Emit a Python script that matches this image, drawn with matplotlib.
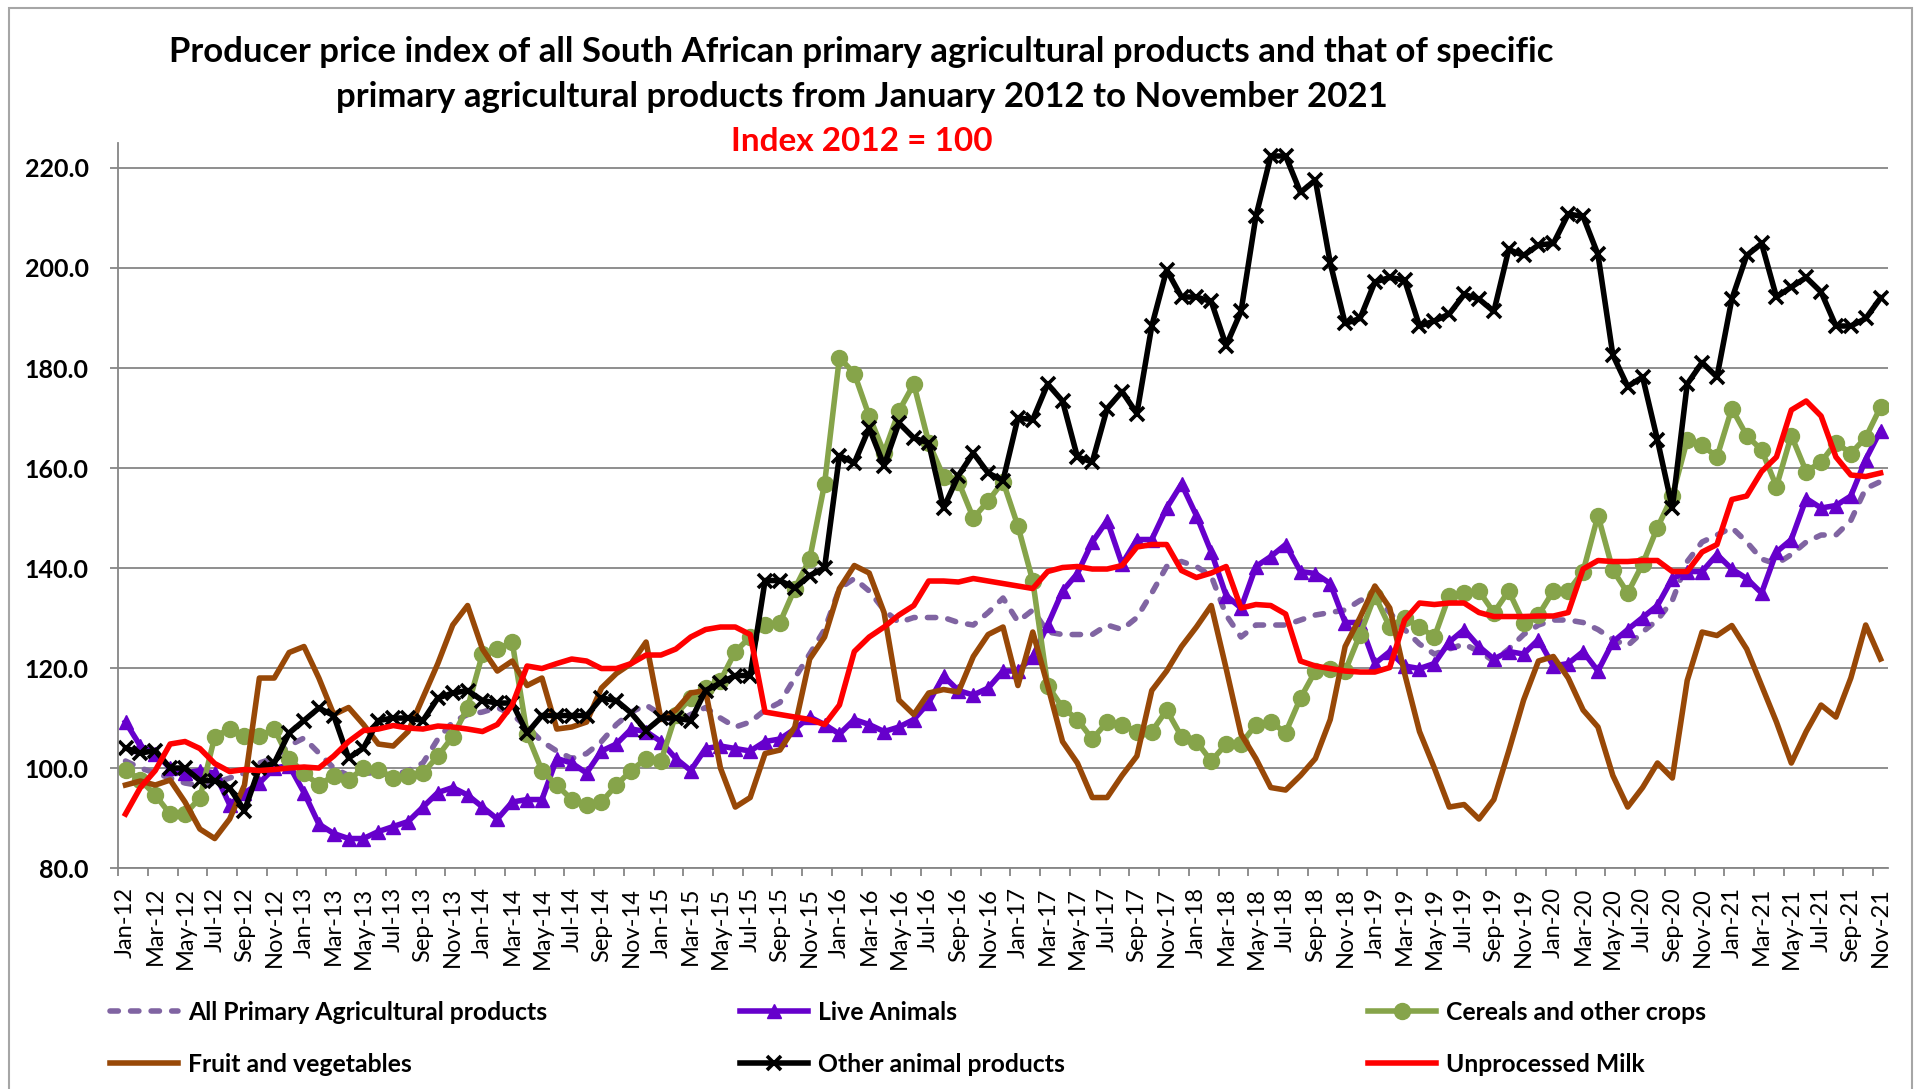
import numpy as np
import pandas as pd
import matplotlib
matplotlib.use('Agg')
import matplotlib.pyplot as plt
from matplotlib.patches import Rectangle

plt.rcParams['font.family'] = ['Lato', 'DejaVu Sans']

# Jan-12 .. Nov-21, monthly
months = pd.date_range('2012-01-01', periods=119, freq='MS').strftime('%b-%y').tolist()

all_primary = [101.4, 100, 99, 98, 97, 96.5, 97, 98, 99, 101, 102, 104.5,
               106, 103, 100, 98.5, 99, 99, 98.5, 99.5, 101, 105.8, 109.2, 110.7,
               111.2, 112.1, 110.7, 108.2, 105.3, 103.4, 101.9, 102.9, 105.3, 108.7, 111.2, 112.6,
               110.7, 109.2, 110.7, 112.1, 110, 108.2, 109.2, 111.6, 113.1, 118, 122.8, 127.7,
               135.9, 137.9, 135.4, 131.6, 129.1, 130.1, 130.1, 130.1, 129.1, 128.6, 131.1, 134,
               129.3, 131.6, 127.2, 126.7, 126.7, 126.7, 128.6, 127.7, 130.1, 135, 140.3, 141.3,
               140.3, 138.4, 130.6, 126.2, 128.6, 128.6, 128.6, 129.6, 130.6, 131.1, 131.6, 133.5,
               134.5, 131.1, 127.7, 124.8, 122.8, 123.8, 124.8, 123.3, 121.4, 123.8, 126.7, 128.6,
               129.6, 129.6, 129.1, 127.7, 125.7, 124.5, 127.2, 129.6, 133.5, 141.3, 145.2, 146.6,
               148.1, 145.2, 141.8, 140.8, 142.7, 145.2, 146.6, 146.6, 149.5, 155.9, 157.3]

live_animals = [109.2, 104.4, 102.9, 100, 99, 99.5, 99, 92.7, 95, 97, 100, 100.5,
                95.1, 88.8, 86.9, 85.9, 85.9, 87.3, 88.3, 89.3, 92.2, 95.1, 96.1, 94.6,
                92.2, 89.8, 93.2, 93.7, 93.7, 101.9, 101, 99, 103.4, 104.8, 107.8, 107.3,
                105.3, 101.9, 99.5, 103.9, 104.4, 103.9, 103.4, 105.3, 105.8, 107.8, 110.2, 108.7,
                106.8, 109.7, 108.7, 107.3, 108.2, 109.7, 113.1, 118.4, 115.5, 114.6, 116, 119.4,
                119.4, 122.3, 128.6, 135.4, 138.9, 145.2, 149.5, 140.8, 145.7, 145.7, 152, 156.8,
                150.5, 143.2, 134.5, 132, 140.3, 142.3, 144.7, 139.3, 138.9, 136.9, 129.1, 129.1,
                120.9, 123.3, 120.4, 119.9, 120.9, 125.2, 127.7, 124.3, 121.8, 123.3, 122.8, 125.7,
                120.4, 120.9, 123.3, 119.4, 125.2, 127.7, 130.1, 132.5, 137.9, 139.3, 139.3, 142.7,
                139.8, 137.9, 135, 143.2, 145.7, 153.9, 152, 152.5, 154.4, 161.7, 167.5]

cereals = [99.7, 97.6, 94.6, 90.8, 90.8, 94, 106.3, 107.8, 106.5, 106.5, 107.8, 101.9,
           99, 96.6, 98.5, 97.6, 100, 99.7, 98, 98.5, 99, 102.4, 106.3, 112.1,
           122.8, 123.8, 125.2, 106.8, 99.5, 96.6, 93.7, 92.7, 93.2, 96.6, 99.5, 101.9,
           101.4, 110.7, 114, 116, 117.5, 123.3, 126.2, 128.7, 129.1, 135.9, 141.8, 156.8,
           182.1, 178.9, 170.4, 163.1, 171.4, 176.8, 165.1, 158.3, 157.3, 150, 153.4, 157.3,
           148.4, 137.4, 116.5, 112.1, 109.7, 105.8, 109.2, 108.7, 107.3, 107.3, 111.6, 106.3,
           105.3, 101.4, 104.8, 104.8, 108.7, 109.2, 107.1, 114, 119.4, 119.9, 119.4, 126.7,
           134.5, 128.2, 130.1, 128.2, 126.2, 134.5, 135, 135.4, 131.1, 135.4, 129.1, 130.6,
           135.4, 135.4, 139.3, 150.5, 139.6, 135, 140.8, 148.1, 154.4, 165.6, 164.6, 162.2,
           171.9, 166.5, 163.6, 156.3, 166.5, 159.3, 161.2, 165.1, 162.9, 166.1, 172.2]

fruit_veg = [96.6, 97.4, 96.6, 97.6, 93.2, 87.8, 85.9, 89.8, 96.6, 118, 118, 123.1,
             124.3, 118, 110.7, 112.1, 108.7, 104.8, 104.4, 107.3, 114.1, 120.9, 128.6, 132.5,
             123.8, 119.4, 121.4, 116.5, 118, 107.8, 108.2, 109.2, 116, 118.9, 120.9, 125.2,
             109.7, 111.6, 115, 115.5, 100, 92.2, 94.1, 102.9, 103.6, 108.2, 121.8, 126.2,
             135.9, 140.5, 139, 131.1, 113.6, 110.7, 115, 115.7, 115.2, 122.3, 126.7, 128.2,
             116.5, 127.2, 116.5, 105.3, 101, 94.1, 94.1, 98.5, 102.4, 115.5, 119.4, 124.3,
             128.2, 132.5, 119.9, 106.8, 101.9, 96.1, 95.6, 98.5, 101.9, 109.7, 124.3, 130.1,
             136.4, 132, 118.9, 107.3, 100, 92.2, 92.7, 89.8, 93.7, 103.4, 113.6, 121.4,
             122.3, 118, 111.6, 108.2, 98.5, 92.2, 96.1, 101, 98, 117.5, 127.2, 126.5,
             128.5, 123.8, 116.5, 109.2, 101, 107.3, 112.6, 110.2, 118, 128.6, 121.8]

other_animal = [104, 103, 103.5, 100, 100, 97.5, 97.5, 96, 91.5, 100, 101, 107,
                109.5, 112, 110.5, 102, 104, 109.5, 110, 110, 109.5, 114, 115, 115.5,
                113.5, 113, 113, 107, 110.5, 110.5, 110.5, 110.5, 114, 113.5, 111, 107.5,
                110, 110, 109.5, 115.5, 117, 118.5, 118.5, 137.5, 137.5, 136, 138.5, 140,
                162.5, 161, 168, 160.5, 169, 166, 165, 152, 158.5, 163, 159, 157.5,
                170, 169.7, 176.8, 173.4, 162.2, 161.2, 171.9, 175.3, 170.9, 188.4, 199.6, 194.2,
                194.2, 193.3, 184.5, 191.3, 210.3, 222.4, 222.4, 215.1, 217.6, 201, 188.9, 189.9,
                197.2, 198.1, 197.6, 188.4, 189.4, 190.8, 194.7, 193.8, 191.3, 203.7, 202.5, 204.6,
                204.9, 210.8, 210.3, 202.7, 182.6, 176.3, 178.2, 165.6, 152, 176.8, 181.1, 178.2,
                193.8, 202.5, 204.9, 194.2, 196.2, 198.1, 195.2, 188.4, 188.4, 189.9, 194]

milk = [90.8, 96.1, 99.5, 104.8, 105.3, 103.9, 100.9, 99.3, 99.7, 99.5, 99.7, 100,
        100.2, 100, 102.4, 105.3, 107.5, 107.8, 108.5, 108, 107.8, 108.4, 108.2, 107.8,
        107.3, 108.7, 112.6, 120.4, 119.9, 120.9, 121.8, 121.4, 119.9, 119.9, 120.9, 122.6,
        122.6, 123.8, 126.2, 127.7, 128.2, 128.2, 126.7, 111.2, 110.7, 110.2, 109.7, 108.7,
        112.6, 123.3, 126.2, 128.2, 130.6, 132.5, 137.4, 137.4, 137.2, 137.9, 137.4, 136.9,
        136.4, 135.9, 139.3, 140.1, 140.3, 139.8, 139.8, 140.5, 144.2, 144.7, 144.7, 139.5,
        138.1, 139, 140.3, 132, 132.7, 132.5, 130.8, 121.4, 120.4, 119.9, 119.4, 119.2,
        119.2, 120.1, 129.6, 133, 132.7, 133, 133, 131.1, 130.3, 130.3, 130.3, 130.4,
        130.4, 131.1, 139.8, 141.5, 141.3, 141.3, 141.5, 141.5, 139.3, 139.3, 143.2, 144.7,
        153.7, 154.4, 159.3, 162.2, 171.6, 173.4, 170.4, 162.2, 158.6, 158.3, 159]

yticks = [80, 100, 120, 140, 160, 180, 200, 220]

x = np.arange(len(months))
grey = '#868686'

fig = plt.figure(figsize=(19.23, 10.89), dpi=100)
ax = fig.add_axes([0.0614, 0.2029, 0.9204, 0.6658])

lw = 4.0
l_all, = ax.plot(x, all_primary, color='#8064A2', lw=lw, dashes=(1.5, 2.2),
                 dash_capstyle='round', label='All Primary Agricultural products')
l_live, = ax.plot(x, live_animals, color='#6600CC', lw=lw, marker='^', ms=9.5,
                  label='Live Animals')
l_cer, = ax.plot(x, cereals, color='#86A44A', lw=lw, marker='o', ms=11.5,
                 label='Cereals and other crops')
l_fv, = ax.plot(x, fruit_veg, color='#984807', lw=lw, label='Fruit and vegetables')
l_oth, = ax.plot(x, other_animal, color='black', lw=lw, marker='x', ms=10, mew=2.6,
                 label='Other animal products')
l_milk, = ax.plot(x, milk, color='#FF0000', lw=lw, label='Unprocessed Milk')

ax.set_xlim(-0.5, 118.5)
ax.set_ylim(80, 225)
ax.set_yticks(yticks)
ax.set_yticklabels(['%.1f' % v for v in yticks], fontweight='bold')
ax.yaxis.grid(True, color=grey, lw=1.3)
ax.set_axisbelow(True)

ax.set_xticks(x[::2])
ax.set_xticklabels(months[::2], rotation=90, va='top')
ax.set_xticks(np.arange(-0.5, 119, 2), minor=True)
ax.tick_params(axis='x', which='major', length=0, pad=13.5, labelsize=17)
ax.tick_params(axis='x', which='minor', length=6, width=1.3, color=grey)
ax.tick_params(axis='y', length=6, width=1.3, color=grey, pad=15, labelsize=18)

for s in ['top', 'right']:
    ax.spines[s].set_visible(False)
for s in ['left', 'bottom']:
    ax.spines[s].set_color(grey)
    ax.spines[s].set_linewidth(1.3)

# titles
fig.text(0.448, 0.952, 'Producer price index of all South African primary agricultural products and that of specific',
         ha='center', va='center', fontsize=25, fontweight='bold')
fig.text(0.448, 0.911, 'primary agricultural products from January 2012 to November 2021',
         ha='center', va='center', fontsize=25, fontweight='bold')
fig.text(0.448, 0.8705, 'Index 2012 = 100', ha='center', va='center', fontsize=24,
         fontweight='bold', color='#FF0000')

# legend: three columns placed separately
cols = [([l_all, l_fv], 0.0572), ([l_live, l_oth], 0.3848), ([l_cer, l_milk], 0.7114)]
for handles, xpos in cols:
    fig.legend(handles=handles, labels=[h.get_label() for h in handles],
               loc='center left', bbox_to_anchor=(xpos, 0.0465), frameon=False,
               prop={'weight': 'bold', 'size': 17.8}, handlelength=2.75,
               handletextpad=0.4, labelspacing=1.15, borderpad=0, borderaxespad=0)

# outer chart border
fig.add_artist(Rectangle((9 / 1923, -0.05), 1903 / 1923, 1.05 - 8 / 1089,
                         transform=fig.transFigure, fill=False, edgecolor='#a6a6a6', lw=1.5))

fig.savefig('out.png', dpi=100)
